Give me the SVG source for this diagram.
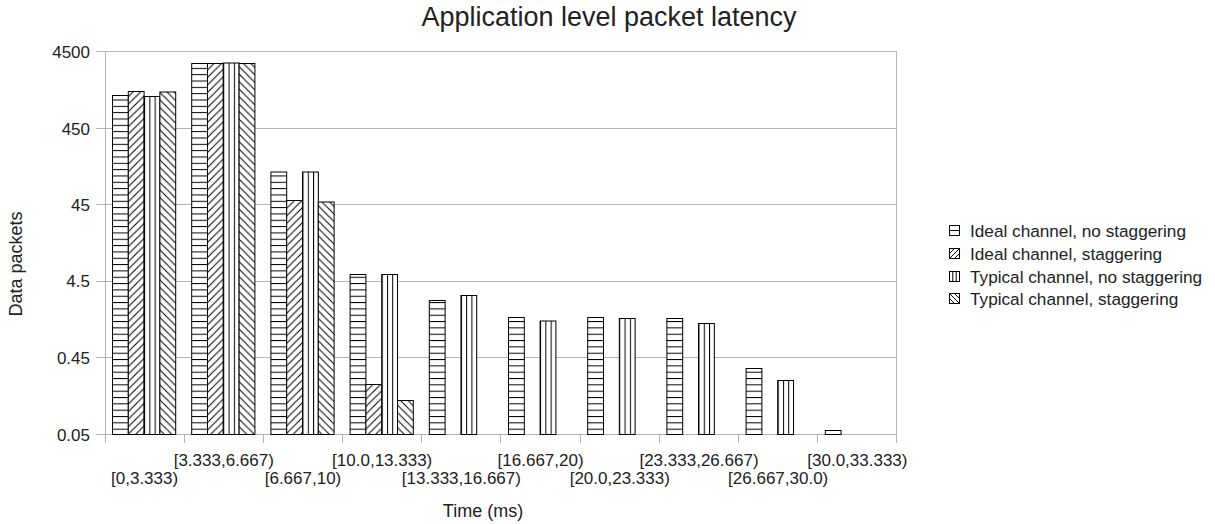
<svg xmlns="http://www.w3.org/2000/svg" width="1215" height="524" viewBox="0 0 1215 524">
  <style>
    text { font-family: "Liberation Sans", Arial, sans-serif; fill: #222; }
    .title { font-size: 27px; text-anchor: middle; }
    .lbl { font-size: 17.2px; }
    .axt { font-size: 18px; }
    .ytick { font-size: 17px; text-anchor: end; }
    .xtick { font-size: 17px; text-anchor: middle; }
    .grid { stroke: #b3b3b3; stroke-width: 1; fill: none; }
    .bar { stroke: #000; stroke-width: 1; }
    .b1 { fill: url(#hlines); }
    .b2 { fill: url(#fwd); }
    .b3 { fill: url(#vlines); }
    .b4 { fill: url(#back); }
    .sym { fill: #fff; stroke: #000; stroke-width: 1; }
    .symline { stroke: #000; stroke-width: 1; fill: none; }
  </style>
  <defs>
    <!-- horizontal hatching -->
    <pattern id="hlines" patternUnits="userSpaceOnUse" x="0" y="435" width="20" height="6.33">
      <rect width="20" height="6.33" fill="#fff"/>
      <line x1="0" y1="0.5" x2="20" y2="0.5" stroke="#000" stroke-width="1"/>
    </pattern>
    <!-- forward diagonal hatching -->
    <pattern id="fwd" patternUnits="userSpaceOnUse" x="0" y="435" width="7.5" height="7.5">
      <rect width="7.5" height="7.5" fill="#fff"/>
      <path d="M0,7.5 L7.5,0 M-2,2 L2,-2 M5.5,9.5 L9.5,5.5" stroke="#000" stroke-width="1"/>
    </pattern>
    <!-- backward diagonal hatching -->
    <pattern id="back" patternUnits="userSpaceOnUse" x="0" y="435" width="7.5" height="7.5">
      <rect width="7.5" height="7.5" fill="#fff"/>
      <path d="M0,0 L7.5,7.5 M-2,5.5 L2,9.5 M5.5,-2 L9.5,2" stroke="#000" stroke-width="1"/>
    </pattern>
    <!-- vertical hatching, three columns per bar -->
    <pattern id="vlines" patternUnits="objectBoundingBox" x="0" y="0" width="0.33333" height="1">
      <rect x="0" y="0" width="20" height="500" fill="#fff"/>
      <line x1="0.5" y1="0" x2="0.5" y2="500" stroke="#000" stroke-width="1"/>
    </pattern>
  </defs>

  <rect width="1215" height="524" fill="#fff"/>

  <text class="title" x="609" y="26">Application level packet latency</text>

  <!-- plot frame and gridlines -->
  <g id="axes">
    <line class="grid" x1="96" y1="51.5" x2="897" y2="51.5"/>
    <line class="grid" x1="96" y1="128.5" x2="897" y2="128.5"/>
    <line class="grid" x1="96" y1="204.5" x2="897" y2="204.5"/>
    <line class="grid" x1="96" y1="281.5" x2="897" y2="281.5"/>
    <line class="grid" x1="96" y1="357.5" x2="897" y2="357.5"/>
    <line class="grid" x1="96" y1="434.5" x2="897" y2="434.5"/>
    <line class="grid" x1="105.5" y1="51.5" x2="105.5" y2="443"/>
    <line class="grid" x1="896.5" y1="51.5" x2="896.5" y2="443"/>
    <path class="grid" d="M184.5,435V443M263.5,435V443M342.5,435V443M421.5,435V443M500.5,435V443M580.5,435V443M659.5,435V443M738.5,435V443M817.5,435V443"/>
    <text class="ytick" x="90" y="58">4500</text>
    <text class="ytick" x="90" y="134.5">450</text>
    <text class="ytick" x="90" y="210.5">45</text>
    <text class="ytick" x="90" y="287">4.5</text>
    <text class="ytick" x="90" y="363.5">0.45</text>
    <text class="ytick" x="90" y="440.5">0.05</text>
    <text class="axt" transform="translate(21.5,264) rotate(-90)" text-anchor="middle">Data packets</text>
  </g>

  <!-- bars: per interval, ideal/no stagger, ideal/stagger, typical/no stagger, typical/stagger -->
  <g id="bars">
    <g id="cat0">
      <rect class="bar b1" x="112.5" y="95.5" width="15.8" height="339"/>
      <rect class="bar b2" x="128.3" y="91.5" width="15.8" height="343"/>
      <rect class="bar b3" x="144.1" y="96.5" width="15.8" height="338"/>
      <rect class="bar b4" x="159.9" y="92" width="15.8" height="342.5"/>
    </g>
    <g id="cat1">
      <rect class="bar b1" x="191.7" y="63.5" width="15.8" height="371"/>
      <rect class="bar b2" x="207.5" y="63.5" width="15.8" height="371"/>
      <rect class="bar b3" x="223.3" y="63" width="15.8" height="371.5"/>
      <rect class="bar b4" x="239.1" y="63.5" width="15.8" height="371"/>
    </g>
    <g id="cat2">
      <rect class="bar b1" x="270.9" y="172" width="15.8" height="262.5"/>
      <rect class="bar b2" x="286.7" y="200.5" width="15.8" height="234"/>
      <rect class="bar b3" x="302.5" y="172" width="15.8" height="262.5"/>
      <rect class="bar b4" x="318.3" y="202" width="15.8" height="232.5"/>
    </g>
    <g id="cat3">
      <rect class="bar b1" x="350.1" y="274.5" width="15.8" height="160"/>
      <rect class="bar b2" x="365.9" y="384.5" width="15.8" height="50"/>
      <rect class="bar b3" x="381.7" y="274.5" width="15.8" height="160"/>
      <rect class="bar b4" x="397.5" y="400.5" width="15.8" height="34"/>
    </g>
    <g id="cat4">
      <rect class="bar b1" x="429.3" y="300.5" width="15.8" height="134"/>
      <rect class="bar b3" x="460.9" y="295.5" width="15.8" height="139"/>
    </g>
    <g id="cat5">
      <rect class="bar b1" x="508.5" y="317.5" width="15.8" height="117"/>
      <rect class="bar b3" x="540.1" y="321" width="15.8" height="113.5"/>
    </g>
    <g id="cat6">
      <rect class="bar b1" x="587.7" y="317.5" width="15.8" height="117"/>
      <rect class="bar b3" x="619.3" y="318.5" width="15.8" height="116"/>
    </g>
    <g id="cat7">
      <rect class="bar b1" x="666.9" y="318.5" width="15.8" height="116"/>
      <rect class="bar b3" x="698.5" y="323.5" width="15.8" height="111"/>
    </g>
    <g id="cat8">
      <rect class="bar b1" x="746.1" y="368.5" width="15.8" height="66"/>
      <rect class="bar b3" x="777.7" y="380.5" width="15.8" height="54"/>
    </g>
    <g id="cat9">
      <rect class="bar" fill="#fff" x="825.3" y="430.5" width="15.8" height="4"/>
    </g>
  </g>

  <!-- interval labels, staggered over two rows -->
  <g id="xlabels">
    <text class="xtick" x="144.6" y="484">[0,3.333)</text>
    <text class="xtick" x="223.8" y="466">[3.333,6.667)</text>
    <text class="xtick" x="303" y="484">[6.667,10)</text>
    <text class="xtick" x="382.2" y="466">[10.0,13.333)</text>
    <text class="xtick" x="461.4" y="484">[13.333,16.667)</text>
    <text class="xtick" x="540.6" y="466">[16.667,20)</text>
    <text class="xtick" x="619.8" y="484">[20.0,23.333)</text>
    <text class="xtick" x="699" y="466">[23.333,26.667)</text>
    <text class="xtick" x="778.2" y="484">[26.667,30.0)</text>
    <text class="xtick" x="857.4" y="466">[30.0,33.333)</text>
    <text class="axt" x="483" y="517" text-anchor="middle">Time (ms)</text>
  </g>

  <!-- legend -->
  <g id="legend">
    <g id="leg1">
      <rect class="sym" x="949.5" y="225.5" width="10" height="10"/>
      <line class="symline" x1="949.5" y1="230.5" x2="959.5" y2="230.5"/>
      <text class="lbl" x="970" y="237">Ideal channel, no staggering</text>
    </g>
    <g id="leg2">
      <rect class="sym" x="949.5" y="248.5" width="10" height="10"/>
      <path class="symline" d="M949.5,253.5L954.5,248.5M949.5,258.5L959.5,248.5M954.5,258.5L959.5,253.5"/>
      <text class="lbl" x="970" y="260">Ideal channel, staggering</text>
    </g>
    <g id="leg3">
      <rect class="sym" x="949.5" y="271.5" width="10" height="10"/>
      <path class="symline" d="M952.8,271.5V281.5M956.2,271.5V281.5"/>
      <text class="lbl" x="970" y="282.5">Typical channel, no staggering</text>
    </g>
    <g id="leg4">
      <rect class="sym" x="949.5" y="293.5" width="10" height="10"/>
      <path class="symline" d="M949.5,293.5L959.5,303.5M949.5,298.5L954.5,303.5M954.5,293.5L959.5,298.5"/>
      <text class="lbl" x="970" y="305">Typical channel, staggering</text>
    </g>
  </g>
</svg>
